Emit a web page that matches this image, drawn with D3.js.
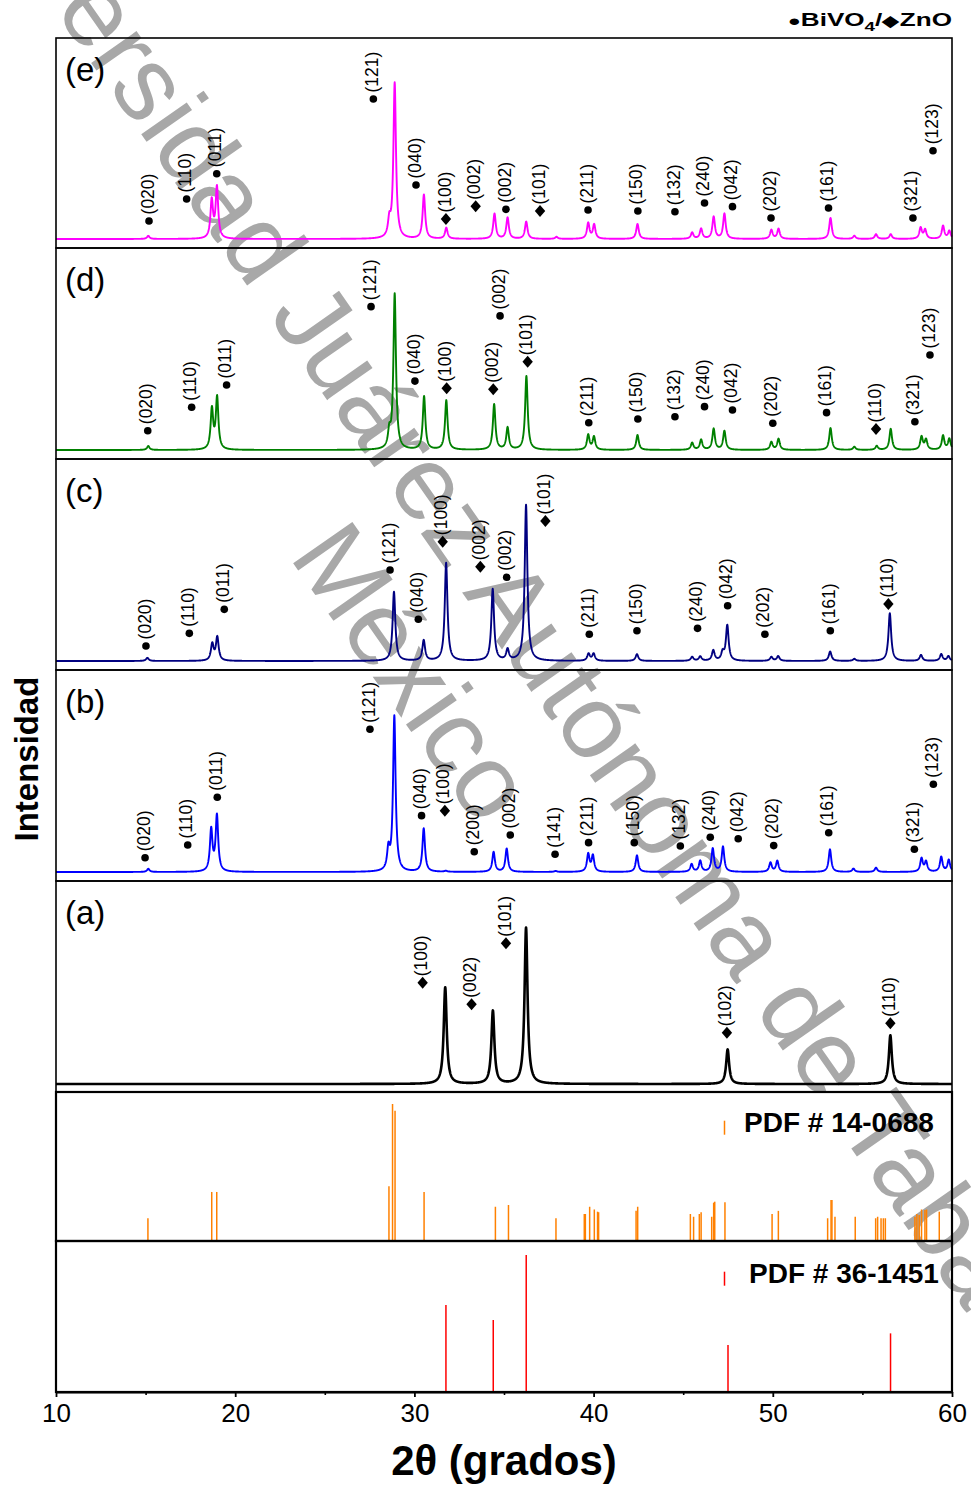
<!DOCTYPE html>
<html><head><meta charset="utf-8">
<script src="https://cdn.jsdelivr.net/npm/d3@7"></script>
<style>body{margin:0;background:#fff}svg{display:block}</style>
</head><body>
<svg id="c" width="971" height="1487"></svg>
<script>
// ---------------- data ----------------
const xTicks=[10,20,30,40,50,60];
const xMinorTicks=[15,25,35,45,55];
const panelNames=["(e)","(d)","(c)","(b)","(a)"];
const panelColors=["#ff00ff","#008000","#000080","#0000ff","#000000"];
const watermarkLines=["Universidad Juárez Autónoma de Tabasco","México"];
// peaks: [2θ, relative intensity]
const peaksE=[[15.15,2],[18.69,24],[18.98,32.5],[28.6,10],[28.9,99],[30.53,28],[31.78,7],[34.47,16],[35.2,13.5],[36.24,11],[37.93,1.3],[39.7,10],[40.03,9],[42.45,9.5],[45.5,4],[46.0,6.4],[46.7,14],[47.3,16],[49.92,5.7],[50.32,6.4],[53.22,13.4],[54.55,2],[55.76,3],[56.58,3],[58.25,7],[58.5,5.7],[59.5,8.3],[59.85,5]];
const peaksD=[[15.15,2.5],[18.7,25.5],[18.99,33],[28.6,10],[28.9,99],[30.54,34],[31.78,31.5],[34.45,29],[35.2,14],[36.25,47],[39.7,9.5],[40.02,8.3],[42.45,9.5],[45.5,4.5],[46.0,6.4],[46.7,13.4],[47.3,12],[49.92,5],[50.32,7],[53.22,14],[54.55,2],[55.8,2.5],[56.58,13.4],[58.3,8.3],[58.55,6.4],[59.5,9],[59.85,7]];
const peaksC=[[15.1,2],[18.72,10.6],[19.0,15],[28.86,44],[30.52,13],[31.77,62.4],[34.37,45.7],[35.2,7],[36.23,99.4],[39.72,4.5],[40.0,4.5],[42.42,4.3],[45.5,2.5],[45.95,2.8],[46.68,6.6],[47.2,5],[47.46,22.5],[49.92,2.5],[50.3,3],[53.2,6],[54.55,1.3],[56.53,30.4],[58.27,3.8],[59.4,4.3],[59.8,3]];
const peaksB=[[15.15,2],[18.66,26.5],[18.98,35.5],[28.55,13],[28.88,99],[30.52,27.6],[31.75,0.6],[34.42,12.7],[35.15,14.8],[37.88,0.6],[39.7,11.2],[39.96,10.2],[42.42,10.6],[45.47,4.9],[45.95,7],[46.65,14.8],[47.22,16],[49.87,5.9],[50.25,7],[53.19,14.4],[54.5,2.1],[55.76,2.7],[58.3,8.5],[58.55,6.4],[59.4,9.5],[59.82,7.6]];
const peaksA=[[31.72,61.5],[34.38,46.5],[36.23,99.5],[47.48,22],[56.56,31]];
// labels: [phase (b = BiVO4, z = ZnO), hkl, 2θ, level]
const labelsE=[["b","(020)",15.19,11.5],["b","(110)",17.29,25.5],["b","(011)",18.97,41.6],["b","(121)",27.71,89.2],["b","(040)",30.09,34.4],["z","(100)",31.76,12.7],["z","(002)",33.42,20.8],["b","(002)",35.11,18.9],["z","(101)",37.01,17.8],["b","(211)",39.69,18.5],["b","(150)",42.47,17.8],["b","(132)",44.54,17.4],["b","(240)",46.19,22.9],["b","(042)",47.75,20.6],["b","(202)",49.9,13.4],["b","(161)",53.11,19.7],["b","(321)",57.82,13.4],["b","(123)",58.94,56.2]];
const labelsD=[["b","(020)",15.12,12.3],["b","(110)",17.57,27.2],["b","(011)",19.52,41.4],["b","(121)",27.58,91.3],["b","(040)",30.03,43.9],["z","(100)",31.8,39.3],["z","(002)",34.4,38.7],["b","(002)",34.78,85.4],["z","(101)",36.32,56.2],["b","(211)",39.73,17.4],["b","(150)",42.47,19.7],["b","(132)",44.54,21.2],["b","(240)",46.19,27.6],["b","(042)",47.75,25.5],["b","(202)",50.0,17],["b","(161)",53.0,23.8],["z","(110)",55.76,13.4],["b","(321)",57.93,18],["b","(123)",58.77,60.5]];
const labelsC=[["b","(020)",15.02,9.6],["b","(110)",17.44,17.6],["b","(011)",19.39,32.9],["b","(121)",28.64,58],["b","(040)",30.22,26.6],["z","(100)",31.58,76],["z","(002)",33.68,60],["b","(002)",35.15,53.3],["z","(101)",37.31,89.2],["b","(211)",39.76,17],["b","(150)",42.42,19.3],["b","(240)",45.8,20.8],["b","(042)",47.48,35.2],["b","(202)",49.56,17],["b","(161)",53.21,19.3],["z","(110)",56.45,36.3]];
const labelsB=[["b","(020)",14.97,9.1],["b","(110)",17.35,17.2],["b","(011)",19.0,47.6],["b","(121)",27.52,90.9],["b","(040)",30.4,35.9],["z","(100)",31.7,39],["b","(200)",33.34,12.9],["b","(002)",35.35,23.6],["b","(141)",37.85,11.3],["b","(211)",39.72,18.7],["b","(150)",42.27,18.7],["b","(132)",44.84,16.6],["b","(240)",46.51,22.1],["b","(042)",48.07,21.2],["b","(202)",50.05,16.8],["b","(161)",53.12,25],["b","(321)",57.9,14.5],["b","(123)",58.96,55.9]];
const labelsA=[["z","(100)",30.46,64.5],["z","(002)",33.19,50.8],["z","(101)",35.11,89.6],["z","(102)",47.44,32.7],["z","(110)",56.56,38.7]];
// reference patterns: [2θ, relative intensity]
const pdfBiVO4=[[15.13,16.6],[18.69,35.8],[18.97,35.8],[28.58,40],[28.78,100],[28.92,95],[30.54,35.8],[34.52,25],[35.25,26.3],[37.9,16.6],[39.48,19.7],[39.54,19.7],[39.78,25],[40.04,23],[40.22,21.4],[40.28,21],[42.37,22],[42.46,25],[45.4,19.7],[45.58,17.7],[45.9,19.7],[46.0,21],[46.59,17.7],[46.7,28],[46.76,28.7],[47.33,28.2],[49.96,19.7],[50.31,22],[53.06,16.6],[53.25,30],[53.3,30],[53.47,17.7],[54.6,17.7],[55.74,16.6],[55.85,17.7],[56.04,16.6],[56.17,16.6],[56.28,16.6],[57.93,17.7],[58.04,19.7],[58.17,19],[58.3,23],[58.49,22.6],[58.58,23],[59.29,21.4]];
const pdfZnO=[[31.76,63.5],[34.4,52.5],[36.24,100],[47.5,34.3],[56.57,42.8]];
const pdfNames=["PDF # 14-0688","PDF # 36-1451"];
const pdfColors=["#ff8000","#ff0000"];

// ---------------- drawing ----------------
const FONT="'Liberation Sans', Arial, Helvetica, sans-serif";
const svg=d3.select("#c");
const x=d3.scaleLinear().domain([10,60]).range([56,952]);

// watermark (behind)
const wm=svg.append("g").attr("transform","translate(-67,-163) rotate(55)")
  .attr("fill","#a8a8a8").style("font-family",FONT).style("font-size","105px");
wm.append("text").attr("x",0).attr("y",0).text(watermarkLines[0]);
wm.append("text").attr("x",793).attr("y",121.5).text(watermarkLines[1]);

const spectra=[
 {peaks:peaksE,labels:labelsE,w:0.17},
 {peaks:peaksD,labels:labelsD,w:0.17},
 {peaks:peaksC,labels:labelsC,w:0.18},
 {peaks:peaksB,labels:labelsB,w:0.17},
 {peaks:peaksA,labels:labelsA,w:0.2}
];
const tops=[38,248,459,670,881,1092];
const grid=d3.range(10,60.0001,0.01);

spectra.forEach((s,i)=>{
  const top=tops[i],bot=tops[i+1];
  const base=bot-(i===4?8:9);
  const y=d3.scaleLinear().domain([0,100]).range([base,base-157]);
  const g=s.w/2;
  const pts=grid.map(t=>[t,d3.sum(s.peaks,p=>p[1]*g*g/((t-p[0])*(t-p[0])+g*g))]);
  svg.append("path").datum(pts)
    .attr("d",d3.line().x(d=>x(d[0])).y(d=>y(d[1])))
    .attr("fill","none").attr("stroke",panelColors[i])
    .attr("stroke-width",i===4?2.6:1.9).attr("stroke-linejoin","round");
  svg.append("rect").attr("x",x(10)).attr("y",top).attr("width",x(60)-x(10)).attr("height",bot-top)
    .attr("fill","none").attr("stroke","#000").attr("stroke-width",1.6);
  svg.append("text").attr("x",65).attr("y",top+43).text(panelNames[i])
    .style("font-family",FONT).style("font-size","33px").attr("fill","#000");
  const lg=svg.append("g").selectAll("g").data(s.labels).join("g")
    .attr("transform",d=>`translate(${x(d[2])},${y(d[3])})`);
  lg.filter(d=>d[0]==="b").append("circle").attr("r",3.8).attr("fill","#000");
  lg.filter(d=>d[0]==="z").append("path").attr("d","M0,-6L5.2,0L0,6L-5.2,0Z").attr("fill","#000");
  lg.append("text").attr("transform","translate(0,-6.5) rotate(-90)").attr("dy","0.26em")
    .text(d=>d[1]).style("font-family",FONT).style("font-size","17.5px").attr("fill","#000");
});

// reference patterns
const pdfTops=[1092,1241,1392];
[pdfBiVO4,pdfZnO].forEach((lines,i)=>{
  const top=pdfTops[i],bot=pdfTops[i+1];
  const y=d3.scaleLinear().domain([0,100]).range([bot,bot-137]);
  svg.append("g").selectAll("line").data(lines).join("line")
    .attr("x1",d=>x(d[0])).attr("x2",d=>x(d[0])).attr("y1",y(0)).attr("y2",d=>y(d[1]))
    .attr("stroke",pdfColors[i]).attr("stroke-width",1.5);
  svg.append("rect").attr("x",x(10)).attr("y",top).attr("width",x(60)-x(10)).attr("height",bot-top)
    .attr("fill","none").attr("stroke","#000").attr("stroke-width",2.2);
  const ly=[1131.7,1282.7][i];
  svg.append("line").attr("x1",724.5).attr("x2",724.5).attr("y1",ly-11).attr("y2",ly+3)
    .attr("stroke",pdfColors[i]).attr("stroke-width",1.5);
  svg.append("text").attr("x",[744,749][i]).attr("y",ly).text(pdfNames[i])
    .style("font-family",FONT).style("font-size","28px").style("font-weight","bold").attr("fill","#000");
});

// x axis
const ax=svg.append("g").attr("transform","translate(0,1392)")
  .call(d3.axisBottom(x).tickValues(xTicks).tickSize(5).tickSizeOuter(0).tickPadding(7).tickFormat(d3.format("d")));
ax.select(".domain").attr("stroke-width",2.2);
ax.selectAll(".tick line").attr("stroke-width",1.8);
ax.selectAll("text").style("font-family",FONT).style("font-size","26px").attr("fill","#000");
const axm=svg.append("g").attr("transform","translate(0,1392)")
  .call(d3.axisBottom(x).tickValues(xMinorTicks).tickSize(3).tickFormat(""));
axm.select(".domain").remove();
axm.selectAll(".tick line").attr("stroke-width",1.6);

// titles
svg.append("text").attr("x",504).attr("y",1475).attr("text-anchor","middle").text("2θ (grados)")
  .style("font-family",FONT).style("font-size","42px").style("font-weight","bold");
svg.append("text").attr("transform","translate(38,759) rotate(-90)").attr("text-anchor","middle").text("Intensidad")
  .style("font-family",FONT).style("font-size","33px").style("font-weight","bold");

// legend
const leg=svg.append("text").attr("transform","translate(952,26) scale(1.45,1)").attr("text-anchor","end")
  .style("font-family",FONT).style("font-size","18px").style("font-weight","bold");
leg.append("tspan").style("font-size","15px").text("●");
leg.append("tspan").text("BiVO");
leg.append("tspan").attr("dy",5).style("font-size","13px").text("4");
leg.append("tspan").attr("dy",-5).text("/");
leg.append("tspan").style("font-size","15px").text("◆");
leg.append("tspan").text("ZnO");
</script>
</body></html>
